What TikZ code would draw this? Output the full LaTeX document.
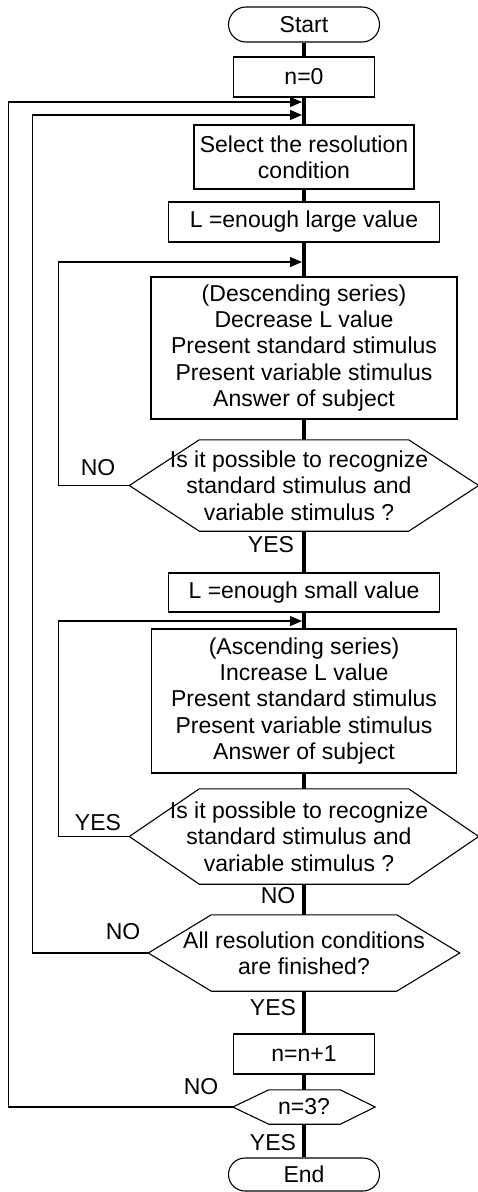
\documentclass[tikz,border=0pt]{standalone}
\usepackage{fontspec}
\setmainfont{Liberation Sans}
\usetikzlibrary{shapes.misc,arrows.meta}
\begin{document}
\begin{tikzpicture}[x=1pt,y=-1pt,
  every node/.style={font=\fontsize{23}{26.3}\selectfont, inner sep=0pt, align=center},
  box/.style={draw, line width=1.1pt, rectangle},
  term/.style={draw, line width=1.1pt, rounded rectangle},
  hexnode/.style={rectangle},
  hexline/.style={line width=1.1pt, line join=miter},
  main/.style={line width=4pt},
  looparrow/.style={line width=1.1pt, -{Triangle[length=12pt,width=10pt]}, shorten >=2pt},
  lbl/.style={}
]
\useasboundingbox (0,0) rectangle (477,1192);

% nodes
\node[term, minimum width=151pt, minimum height=35pt] (start) at (304,24.5) {Start};
\node[box, minimum width=141pt, minimum height=40pt] (n0) at (304,77) {n=0};
\node[box, minimum width=220pt, minimum height=64pt] (sel) at (304,157) {Select the resolution\\condition};
\node[box, minimum width=271pt, minimum height=40pt] (large) at (304,222) {L =enough large value};
\node[box, minimum width=306pt, minimum height=142pt] (desc) at (304,348) {(Descending series)\\Decrease L value\\Present standard stimulus\\Present variable stimulus\\Answer of subject};
\node[hexnode, minimum width=349pt, minimum height=91pt] (d1) at (304,485.5) {\hspace*{-10pt}Is it possible to recognize\\\hspace*{-10pt}standard stimulus and\\\hspace*{-10pt}variable stimulus ?};
\node[box, minimum width=271pt, minimum height=39pt] (small) at (304,592.5) {L =enough small value};
\node[box, minimum width=305pt, minimum height=144pt] (asc) at (304,701) {(Ascending series)\\Increase L value\\Present standard stimulus\\Present variable stimulus\\Answer of subject};
\node[hexnode, minimum width=349pt, minimum height=95pt] (d2) at (304,836.5) {\hspace*{-10pt}Is it possible to recognize\\\hspace*{-10pt}standard stimulus and\\\hspace*{-10pt}variable stimulus ?};
\node[hexnode, minimum width=311pt, minimum height=76pt] (d3) at (304,953) {All resolution conditions\\are finished?};
\node[box, minimum width=141pt, minimum height=40pt] (inc) at (304,1054) {n=n+1};
\node[hexnode, minimum width=142pt, minimum height=34pt] (d4) at (304,1107) {n=3?};
\node[term, minimum width=151pt, minimum height=33pt] (end) at (304,1174.5) {End};

% hexagon outlines
\draw[hexline] (d1.west) -- ([xshift=70pt]d1.north west) -- ([xshift=-70pt]d1.north east) -- (d1.east) -- ([xshift=-70pt]d1.south east) -- ([xshift=70pt]d1.south west) -- cycle;
\draw[hexline] (d2.west) -- ([xshift=70pt]d2.north west) -- ([xshift=-70pt]d2.north east) -- (d2.east) -- ([xshift=-70pt]d2.south east) -- ([xshift=70pt]d2.south west) -- cycle;
\draw[hexline] (d3.west) -- ([xshift=63pt]d3.north west) -- ([xshift=-63pt]d3.north east) -- (d3.east) -- ([xshift=-63pt]d3.south east) -- ([xshift=63pt]d3.south west) -- cycle;
\draw[hexline] (d4.west) -- ([xshift=36pt]d4.north west) -- ([xshift=-35pt]d4.north east) -- (d4.east) -- ([xshift=-35pt]d4.south east) -- ([xshift=36pt]d4.south west) -- cycle;

% junction coordinates on the main line
\coordinate (j1) at (304,102);
\coordinate (j2) at (304,115);
\coordinate (j3) at (304,262);
\coordinate (j4) at (304,621);

% main flow
\draw[main] (start.south) -- (n0.north);
\draw[main] (n0.south) -- (sel.north);
\draw[main] (sel.south) -- (large.north);
\draw[main] (large.south) -- (desc.north);
\draw[main] (desc.south) -- (d1.north);
\draw[main] (d1.south) -- (small.north);
\draw[main] (small.south) -- (asc.north);
\draw[main] (asc.south) -- (d2.north);
\draw[main] (d2.south) -- (d3.north);
\draw[main] (d3.south) -- (inc.north);
\draw[main] (inc.south) -- (d4.north);
\draw[main] (d4.south) -- (end.north);

% loops
\draw[looparrow] (d1.west) -- ++(-70.5,0) |- (j3);
\draw[looparrow] (d2.west) -- ++(-70.5,0) |- (j4);
\draw[looparrow] (d3.west) -- ++(-116,0) |- (j2);
\draw[looparrow] (d4.west) -- ++(-224,0) |- (j1);

% labels
\node[lbl] (l1) at (98,468) {NO};
\node[lbl] (l2) at (271,545) {YES};
\node[lbl] (l3) at (98,823) {YES};
\node[lbl] (l4) at (278,896) {NO};
\node[lbl] (l5) at (123,932) {NO};
\node[lbl] (l6) at (273,1008) {YES};
\node[lbl] (l7) at (201,1087) {NO};
\node[lbl] (l8) at (273,1143) {YES};
\end{tikzpicture}
\end{document}
